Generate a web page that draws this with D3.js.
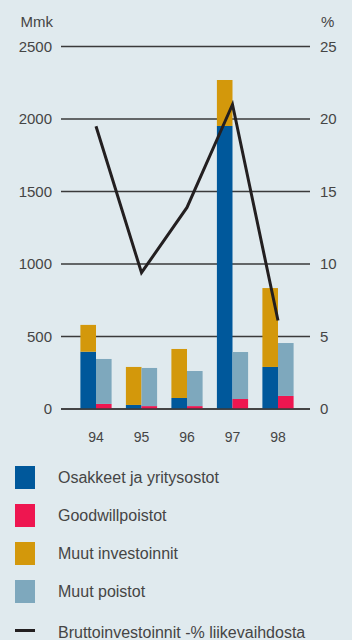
<!DOCTYPE html>
<html>
<head>
<meta charset="utf-8">
<script src="https://cdn.jsdelivr.net/npm/d3@7"></script>
<style>
  html, body { margin: 0; padding: 0; background: #e0eaee; }
  svg { display: block; }
  text { font-family: "Liberation Sans", Arial, sans-serif; fill: #454545; }
</style>
</head>
<body>
<svg id="chart" width="352" height="640"></svg>
<script>
// Years on the category axis
const years = ["94", "95", "96", "97", "98"];
// Left stack (Mmk)
const osakkeet = [395, 28, 76, 1952, 290];        // Osakkeet ja yritysostot
const muutInvestoinnit = [185, 262, 338, 317, 544]; // Muut investoinnit
// Right stack (Mmk)
const goodwill = [35, 20, 20, 69, 90];            // Goodwillpoistot
const muutPoistot = [310, 263, 242, 324, 365];     // Muut poistot
// Line (% of turnover)
const bruttoPct = [19.5, 9.4, 13.9, 21.0, 6.1];
// Axis ticks
const leftTicks = [0, 500, 1000, 1500, 2000, 2500];
const rightTicks = [0, 5, 10, 15, 20, 25];

const colors = {
  osakkeet: "#00589b",
  goodwill: "#ee1650",
  muutInv: "#d3980b",
  muutPoistot: "#7ea8bd",
  line: "#231f20"
};

const svg = d3.select("#chart");
const plotLeft = 61, plotRight = 310, plotTop = 46.5, plotBottom = 409;

const x = d3.scalePoint().domain(years).range([96, 278]);
const yL = d3.scaleLinear().domain([0, 2500]).range([plotBottom, plotTop]);
const yR = d3.scaleLinear().domain([0, 25]).range([plotBottom, plotTop]);
const halfW = 15.6;

// Gridlines
svg.append("g").selectAll("line").data(leftTicks).join("line")
  .attr("x1", plotLeft).attr("x2", plotRight)
  .attr("y1", d => yL(d)).attr("y2", d => yL(d))
  .attr("stroke", "#3a3a3a").attr("stroke-width", 1.3);

// Left axis labels
const axL = svg.append("g").attr("transform", `translate(${plotLeft - 9},0)`)
  .call(d3.axisLeft(yL).tickValues(leftTicks).tickFormat(d3.format("d")).tickSize(0).tickPadding(0));
axL.select(".domain").remove();
axL.selectAll("text").attr("font-size", 15).attr("font-family", "Liberation Sans, Arial, sans-serif").attr("fill", "#454545");

// Right axis labels
const axR = svg.append("g").attr("transform", `translate(${plotRight + 10},0)`)
  .call(d3.axisRight(yR).tickValues(rightTicks).tickFormat(d3.format("d")).tickSize(0).tickPadding(0));
axR.select(".domain").remove();
axR.selectAll("text").attr("font-size", 15).attr("font-family", "Liberation Sans, Arial, sans-serif").attr("fill", "#454545");

svg.append("text").attr("x", 53).attr("y", 27).attr("text-anchor", "end")
  .attr("font-size", 15).text("Mmk");
svg.append("text").attr("x", 321).attr("y", 27)
  .attr("font-size", 15).text("%");

// Stacked bars: investments on the left half, depreciation on the right half
const gBars = svg.append("g");
years.forEach((yr, i) => {
  const cx = x(yr);
  gBars.append("rect").attr("x", cx - halfW).attr("width", halfW)
    .attr("y", yL(osakkeet[i])).attr("height", yL(0) - yL(osakkeet[i]))
    .attr("fill", colors.osakkeet);
  gBars.append("rect").attr("x", cx - halfW).attr("width", halfW)
    .attr("y", yL(osakkeet[i] + muutInvestoinnit[i]))
    .attr("height", yL(osakkeet[i]) - yL(osakkeet[i] + muutInvestoinnit[i]))
    .attr("fill", colors.muutInv);
  gBars.append("rect").attr("x", cx).attr("width", halfW)
    .attr("y", yL(goodwill[i])).attr("height", yL(0) - yL(goodwill[i]))
    .attr("fill", colors.goodwill);
  gBars.append("rect").attr("x", cx).attr("width", halfW)
    .attr("y", yL(goodwill[i] + muutPoistot[i]))
    .attr("height", yL(goodwill[i]) - yL(goodwill[i] + muutPoistot[i]))
    .attr("fill", colors.muutPoistot);
});

// Baseline on top of bars
svg.append("line").attr("x1", plotLeft).attr("x2", plotRight)
  .attr("y1", yL(0)).attr("y2", yL(0))
  .attr("stroke", "#3a3a3a").attr("stroke-width", 1.3);

// Percentage line
svg.append("path")
  .datum(bruttoPct)
  .attr("d", d3.line().x((d, i) => x(years[i])).y(d => yR(d)))
  .attr("fill", "none").attr("stroke", colors.line).attr("stroke-width", 3);

// Category labels
svg.append("g").selectAll("text").data(years).join("text")
  .attr("x", d => x(d)).attr("y", 442).attr("text-anchor", "middle")
  .attr("font-size", 14).text(d => d);

// Legend
const legend = [
  { label: "Osakkeet ja yritysostot", color: colors.osakkeet },
  { label: "Goodwillpoistot", color: colors.goodwill },
  { label: "Muut investoinnit", color: colors.muutInv },
  { label: "Muut poistot", color: colors.muutPoistot }
];
const lg = svg.append("g");
legend.forEach((d, i) => {
  const y0 = 466 + i * 38;
  lg.append("rect").attr("x", 15).attr("y", y0).attr("width", 20).attr("height", 23).attr("fill", d.color);
  lg.append("text").attr("x", 58).attr("y", y0 + 17).attr("font-size", 16).text(d.label);
});
lg.append("rect").attr("x", 15).attr("y", 629).attr("width", 20).attr("height", 3).attr("fill", colors.line);
lg.append("text").attr("x", 58).attr("y", 638).attr("font-size", 16).text("Bruttoinvestoinnit -% liikevaihdosta");
</script>
</body>
</html>
